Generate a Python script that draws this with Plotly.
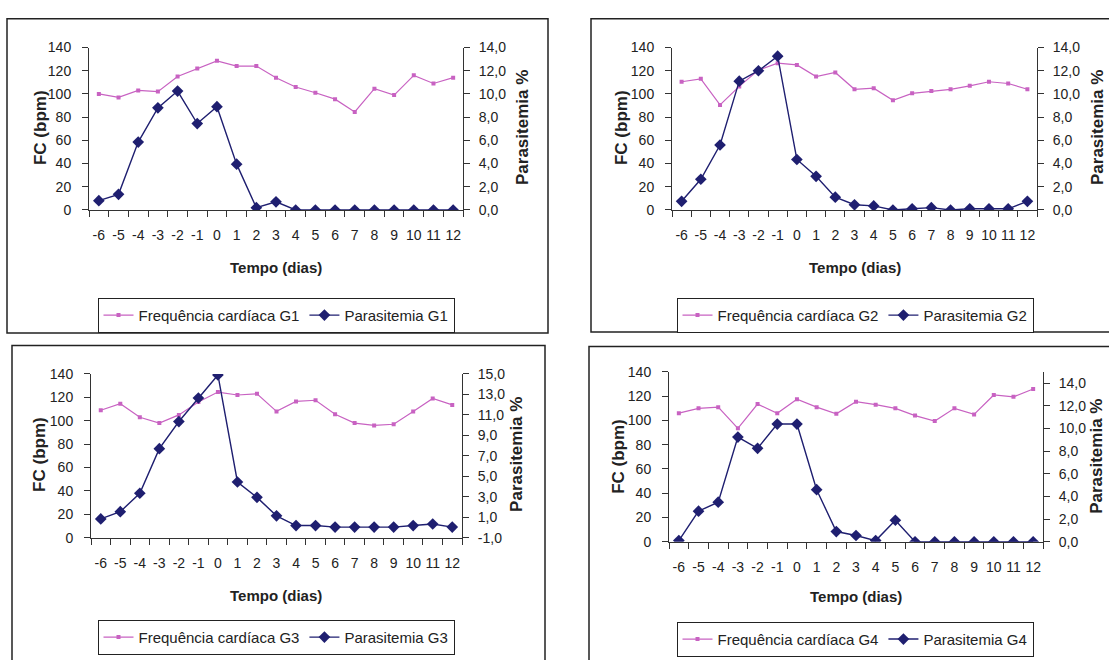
import plotly.graph_objects as go

W, H = 1109, 660

days = [-6, -5, -4, -3, -2, -1, 0, 1, 2, 3, 4, 5, 6, 7, 8, 9, 10, 11, 12]
day_labels = ["-6", "-5", "-4", "-3", "-2", "-1", "0", "1", "2", "3", "4", "5",
              "6", "7", "8", "9", "10", "11", "12"]

fc_g1 = [100, 97, 103, 102, 115, 122, 128.5, 124, 124, 114, 106, 101, 95.5, 84.5, 104.5, 99, 116, 109, 114]
par_g1 = [0.8, 1.35, 5.85, 8.8, 10.25, 7.45, 8.9, 3.95, 0.2, 0.7, 0, 0, 0, 0, 0, 0, 0, 0, 0]

fc_g2 = [110.5, 113, 90.5, 106.5, 120.5, 126.5, 125, 115, 118.5, 104, 105, 94.5, 100.5, 102.5, 104, 107, 110.5, 109, 104]
par_g2 = [0.75, 2.65, 5.6, 11.1, 12.0, 13.25, 4.35, 2.9, 1.1, 0.45, 0.35, 0, 0.1, 0.2, 0, 0.1, 0.1, 0.1, 0.75]

fc_g3 = [109, 114.5, 103, 98, 105, 116, 124.5, 122, 123, 108, 116.5, 117.5, 105.5, 98, 96, 97, 108, 119, 113.5]
par_g3 = [0.85, 1.55, 3.35, 7.7, 10.35, 12.65, 14.9, 4.45, 2.95, 1.15, 0.2, 0.2, 0.05, 0.05, 0.05, 0.05, 0.2, 0.35, 0.05]

fc_g4 = [106, 110, 111, 93.5, 113.5, 106, 117.5, 111, 105.5, 115.5, 113, 110, 104, 99.5, 110, 105, 121, 119.5, 126]
par_g4 = [0.1, 2.7, 3.5, 9.25, 8.25, 10.4, 10.4, 4.6, 0.9, 0.55, 0.1, 1.9, 0, 0, 0, 0, 0, 0, 0]

groups = ["G1", "G2", "G3", "G4"]
fc_all = [fc_g1, fc_g2, fc_g3, fc_g4]
par_all = [par_g1, par_g2, par_g3, par_g4]

left_ticks = [0, 20, 40, 60, 80, 100, 120, 140]
right_ticks_a = [0, 2, 4, 6, 8, 10, 12, 14]
right_labels_a = ["0,0", "2,0", "4,0", "6,0", "8,0", "10,0", "12,0", "14,0"]
right_ticks_b = [-1, 1, 3, 5, 7, 9, 11, 13, 15]
right_labels_b = ["-1,0", "1,0", "3,0", "5,0", "7,0", "9,0", "11,0", "13,0", "15,0"]

# layout geometry (pixels)
panels = [
    dict(x=(89, 463), y=(40.5, 207), rr=(0, 14), rt=right_ticks_a, rl=right_labels_a,
         frame=(7, 11, 548, 333), leg=(276, 315), fc=(40, 123), par=(522, 123), tempo=(276, 266)),
    dict(x=(672, 1037), y=(40.5, 207), rr=(0, 14), rt=right_ticks_a, rl=right_labels_a,
         frame=(591, 11, 1116, 332), leg=(855, 315), fc=(621, 123), par=(1097, 123), tempo=(855, 266)),
    dict(x=(91, 462), y=(375, 543), rr=(-1, 15), rt=right_ticks_b, rl=right_labels_b,
         frame=(12, 346, 545, 672), leg=(276, 645), fc=(40, 458), par=(517, 458), tempo=(276, 602)),
    dict(x=(669, 1043), y=(373, 547), rr=(0, 15), rt=right_ticks_a, rl=right_labels_a,
         frame=(589, 347, 1116, 672), leg=(855, 647), fc=(619, 460), par=(1097, 460), tempo=(856, 603)),
]

PINK = "#C862C2"
NAVY = "#1F1F70"
AX = "#333333"
FONT = "Liberation Sans, Arial, sans-serif"


def px(x):
    return x / W


def py(y):
    return 1 - y / H


fig = go.Figure()
layout = dict(width=W, height=H, margin=dict(l=0, r=0, t=0, b=0),
              paper_bgcolor="white", plot_bgcolor="rgba(0,0,0,0)",
              font=dict(family=FONT, size=14, color="#222"),
              separators=", ", showlegend=True, shapes=[], annotations=[])

for i, (g, fc, par, p) in enumerate(zip(groups, fc_all, par_all, panels)):
    n = i + 1
    xa = "x" if n == 1 else f"x{n}"
    yl_n = 2 * i + 1
    yr_n = 2 * i + 2
    yl = "y" if yl_n == 1 else f"y{yl_n}"
    yr = f"y{yr_n}"
    leg = "legend" if n == 1 else f"legend{n}"

    fig.add_trace(go.Scatter(x=days, y=fc, xaxis=xa, yaxis=yl, mode="lines+markers",
                             name=f"Frequência cardíaca {g}", legend=leg,
                             line=dict(color=PINK, width=1.2),
                             marker=dict(symbol="square", size=4, color=PINK)))
    fig.add_trace(go.Scatter(x=days, y=par, xaxis=xa, yaxis=yr, mode="lines+markers",
                             name=f"Parasitemia {g}", legend=leg,
                             line=dict(color=NAVY, width=1.4),
                             marker=dict(symbol="diamond", size=9, color=NAVY)))

    xdom = [px(p["x"][0]), px(p["x"][1])]
    ydom = [py(p["y"][1]), py(p["y"][0])]
    layout["xaxis" if n == 1 else f"xaxis{n}"] = dict(
        domain=xdom, anchor=yl, range=[-6.5, 12.5], tickmode="array",
        tickvals=days, ticktext=day_labels, ticks="", showline=True, linecolor=AX,
        linewidth=1, showgrid=False, zeroline=False, ticklabelstandoff=12,
        tickfont=dict(size=14, color="#222"),
        minor=dict(tickmode="linear", tick0=-6.5, dtick=1, ticks="outside",
                   ticklen=6, tickcolor=AX, tickwidth=1, showgrid=False))
    layout["yaxis" if yl_n == 1 else f"yaxis{yl_n}"] = dict(
        domain=ydom, anchor=xa, range=[0, 140], tickmode="array", tickvals=left_ticks,
        ticks="outside", ticklen=6, tickcolor=AX, showline=True, linecolor=AX,
        linewidth=1, showgrid=False, zeroline=False, ticklabelstandoff=8,
        tickfont=dict(size=14, color="#222"))
    layout[f"yaxis{yr_n}"] = dict(
        overlaying=yl, side="right", anchor=xa, range=list(p["rr"]), tickmode="array",
        tickvals=p["rt"], ticktext=p["rl"], ticks="outside", ticklen=6, tickcolor=AX,
        showline=True, linecolor=AX, linewidth=1, showgrid=False, zeroline=False,
        ticklabelstandoff=6, tickfont=dict(size=14, color="#222"))

    layout[leg] = dict(x=px(p["leg"][0]), y=py(p["leg"][1]), xanchor="center",
                       yanchor="middle", orientation="h", bgcolor="white",
                       bordercolor="#222", borderwidth=1,
                       font=dict(size=15, color="#222", family=FONT),
                       itemwidth=30, tracegroupgap=0)

    fx0, fy0, fx1, fy1 = p["frame"]
    layout["shapes"].append(dict(type="rect", xref="paper", yref="paper",
                                 x0=px(fx0), x1=px(fx1), y0=py(fy1), y1=py(fy0),
                                 line=dict(color="#222", width=1.5), layer="below"))

    layout["annotations"] += [
        dict(text="<b>FC (bpm)</b>", x=px(p["fc"][0]), y=py(p["fc"][1]), xref="paper",
             yref="paper", textangle=-90, showarrow=False, xanchor="center",
             yanchor="middle", font=dict(size=17, color="#222")),
        dict(text="<b>Parasitemia %</b>", x=px(p["par"][0]), y=py(p["par"][1]),
             xref="paper", yref="paper", textangle=-90, showarrow=False,
             xanchor="center", yanchor="middle", font=dict(size=17, color="#222")),
        dict(text="<b>Tempo (dias)</b>", x=px(p["tempo"][0]), y=py(p["tempo"][1]),
             xref="paper", yref="paper", showarrow=False, xanchor="center",
             yanchor="middle", font=dict(size=15, color="#222")),
    ]

fig.update_layout(**layout)
fig.write_html("out.html")
